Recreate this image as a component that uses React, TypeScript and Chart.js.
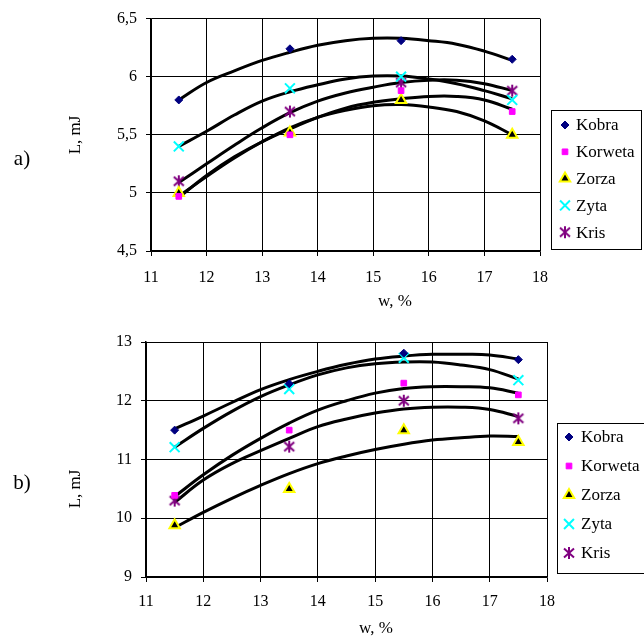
import React, { useEffect, useRef } from "react";
import { Chart, registerables } from "chart.js";
import { drawPoint } from "chart.js/helpers";

Chart.register(...registerables);

// ---------- DATA ----------
const series = ["Kobra", "Korweta", "Zorza", "Zyta", "Kris"];
const wPoints = [11.5, 13.5, 15.5, 17.5];
const wCurve = [11.5, 12, 12.5, 13, 13.5, 14, 14.5, 15, 15.5, 16, 16.5, 17, 17.5];

// chart a) measured points
const aKobra = [5.8, 6.24, 6.31, 6.15];
const aKorweta = [4.97, 5.5, 5.88, 5.7];
const aZorza = [5.0, 5.52, 5.8, 5.5];
const aZyta = [5.4, 5.9, 6.0, 5.8];
const aKris = [5.1, 5.7, 5.95, 5.88];

// chart a) trend curves
const aKobraFit = [5.8, 5.95, 6.05, 6.14, 6.21, 6.27, 6.31, 6.33, 6.33, 6.31, 6.28, 6.22, 6.14];
const aKorwetaFit = [4.96, 5.15, 5.31, 5.44, 5.55, 5.65, 5.73, 5.78, 5.81, 5.83, 5.83, 5.8, 5.72];
const aZorzaFit = [4.97, 5.14, 5.3, 5.44, 5.56, 5.65, 5.71, 5.75, 5.76, 5.74, 5.7, 5.62, 5.5];
const aZytaFit = [5.4, 5.53, 5.67, 5.79, 5.87, 5.93, 5.98, 6.005, 6.005, 5.98, 5.94, 5.88, 5.81];
const aKrisFit = [5.09, 5.25, 5.41, 5.56, 5.69, 5.79, 5.86, 5.91, 5.95, 5.97, 5.97, 5.94, 5.88];

// chart b) measured points
const bKobra = [11.5, 12.29, 12.81, 12.7];
const bKorweta = [10.39, 11.5, 12.3, 12.1];
const bZorza = [9.88, 10.5, 11.5, 11.3];
const bZyta = [11.21, 12.2, 12.73, 12.35];
const bKris = [10.3, 11.22, 12.0, 11.7];

// chart b) trend curves
const bKobraFit = [11.52, 11.74, 11.97, 12.19, 12.36, 12.5, 12.62, 12.71, 12.76, 12.79, 12.79, 12.78, 12.71];
const bKorwetaFit = [10.37, 10.74, 11.07, 11.36, 11.62, 11.84, 12.0, 12.13, 12.21, 12.24, 12.24, 12.22, 12.13];
const bZorzaFit = [9.84, 10.1, 10.34, 10.56, 10.76, 10.93, 11.06, 11.17, 11.26, 11.33, 11.37, 11.4, 11.39];
const bZytaFit = [11.21, 11.53, 11.82, 12.07, 12.27, 12.44, 12.56, 12.63, 12.66, 12.66, 12.61, 12.53, 12.37];
const bKrisFit = [10.27, 10.65, 10.93, 11.15, 11.36, 11.56, 11.69, 11.79, 11.86, 11.89, 11.89, 11.85, 11.73];

const xTicks = { min: 11, max: 18, step: 1 };
const aYTicks = { min: 4.5, max: 6.5, step: 0.5 };
const bYTicks = { min: 9, max: 13, step: 1 };

const xTitle = "w, %";
const yTitle = "L, mJ";

// ---------- STYLES ----------
const FONT = "'Liberation Serif', 'Times New Roman', serif";

function makeAsterisk(color: string): HTMLCanvasElement {
  const c = document.createElement("canvas");
  c.width = 14;
  c.height = 14;
  const g = c.getContext("2d")!;
  g.strokeStyle = color;
  g.lineWidth = 2;
  g.beginPath();
  g.moveTo(7, 1);
  g.lineTo(7, 13);
  g.moveTo(2, 2.5);
  g.lineTo(12, 11.5);
  g.moveTo(12, 2.5);
  g.lineTo(2, 11.5);
  g.stroke();
  return c;
}

const krisMarker = makeAsterisk("#800080");

const markerStyles: any[] = [
  { pointStyle: "rectRot", pointRadius: 4, backgroundColor: "#000080", borderColor: "#000080", borderWidth: 1 },
  { pointStyle: "rect", pointRadius: 4, backgroundColor: "#FF00FF", borderColor: "#FF00FF", borderWidth: 1 },
  { pointStyle: "triangle", pointRadius: 6, backgroundColor: "#000000", borderColor: "#FFFF00", borderWidth: 2 },
  { pointStyle: "crossRot", pointRadius: 7, backgroundColor: "#00FFFF", borderColor: "#00FFFF", borderWidth: 2 },
  { pointStyle: krisMarker, pointRadius: 7, backgroundColor: "#800080", borderColor: "#800080", borderWidth: 2 },
];

type LegendCfg = { x: number; y: number; w: number; h: number; y0: number; step: number; mx: number; tx: number };

function makeLegendPlugin(cfg: LegendCfg) {
  return {
    id: "boxLegend",
    afterDraw(chart: any) {
      const ctx = chart.ctx as CanvasRenderingContext2D;
      ctx.save();
      ctx.strokeStyle = "#000";
      ctx.lineWidth = 1;
      ctx.strokeRect(cfg.x + 0.5, cfg.y + 0.5, cfg.w, cfg.h);
      ctx.font = `17px ${FONT}`;
      ctx.textBaseline = "middle";
      ctx.textAlign = "left";
      series.forEach((name, i) => {
        const st = markerStyles[i];
        const yy = cfg.y0 + i * cfg.step;
        ctx.fillStyle = st.backgroundColor;
        ctx.strokeStyle = st.borderColor;
        ctx.lineWidth = st.borderWidth;
        drawPoint(ctx, { pointStyle: st.pointStyle, radius: st.pointRadius, borderWidth: st.borderWidth, rotation: 0 } as any, cfg.mx, yy);
        ctx.fillStyle = "#000";
        ctx.fillText(name, cfg.tx, yy + 1);
      });
      ctx.restore();
    },
  };
}

function buildDatasets(points: number[][], fits: number[][]) {
  const ds: any[] = [];
  points.forEach((vals, i) => {
    ds.push({
      label: series[i],
      data: wPoints.map((x, j) => ({ x, y: vals[j] })),
      showLine: false,
      order: 0,
      ...markerStyles[i],
    });
  });
  fits.forEach((vals, i) => {
    ds.push({
      label: series[i] + " trend",
      data: wCurve.map((x, j) => ({ x, y: vals[j] })),
      showLine: true,
      borderColor: "#000",
      borderWidth: 3,
      pointRadius: 0,
      tension: 0.4,
      fill: false,
      order: 1,
    });
  });
  return ds;
}

type ChartProps = {
  width: number;
  height: number;
  points: number[][];
  fits: number[][];
  yt: { min: number; max: number; step: number };
  area: { left: number; top: number; right: number; bottom: number };
  legend: LegendCfg;
  xPad: number;
};

function LChart(p: ChartProps) {
  const ref = useRef<HTMLCanvasElement | null>(null);
  useEffect(() => {
    if (!ref.current) return;
    const tickFont = { family: FONT, size: 16 };
    const chart = new Chart(ref.current, {
      type: "scatter",
      data: { datasets: buildDatasets(p.points, p.fits) },
      options: {
        responsive: false,
        animation: false,
        layout: { padding: { left: 0, top: p.area.top, right: p.width - p.area.right, bottom: 0 } },
        plugins: { legend: { display: false }, tooltip: { enabled: false } },
        scales: {
          x: {
            type: "linear",
            min: xTicks.min,
            max: xTicks.max,
            ticks: { stepSize: xTicks.step, font: tickFont, color: "#000", padding: p.xPad, maxRotation: 0 },
            grid: { color: "#000", lineWidth: 1, tickLength: 5 },
            border: { color: "#000", width: 1.5 },
            afterFit: (s: any) => {
              s.height = p.height - p.area.bottom;
            },
          },
          y: {
            type: "linear",
            min: p.yt.min,
            max: p.yt.max,
            ticks: {
              stepSize: p.yt.step,
              font: tickFont,
              color: "#000",
              padding: 9,
              callback: (v: any) => String(v).replace(".", ","),
            },
            grid: { color: "#000", lineWidth: 1, tickLength: 5 },
            border: { color: "#000", width: 1.5 },
            afterFit: (s: any) => {
              s.width = p.area.left;
            },
          },
        },
      } as any,
      plugins: [makeLegendPlugin(p.legend)],
    });
    return () => chart.destroy();
  }, []);
  return <canvas ref={ref} width={p.width} height={p.height} style={{ display: "block", width: p.width, height: p.height }} />;
}

const textStyle: React.CSSProperties = {
  position: "absolute",
  fontFamily: FONT,
  fontSize: 17,
  color: "#000",
  whiteSpace: "nowrap",
  lineHeight: "20px",
};

function Label(props: { cx: number; cy: number; text: string; rotate?: boolean; size?: number }) {
  return (
    <div
      style={{
        ...textStyle,
        fontSize: props.size ?? 17,
        left: props.cx,
        top: props.cy,
        transform: `translate(-50%, -50%)${props.rotate ? " rotate(-90deg)" : ""}`,
      }}
    >
      {props.text}
    </div>
  );
}

export default function App() {
  return (
    <div style={{ position: "absolute", left: 0, top: 0, width: 644, height: 636, background: "#fff", overflow: "hidden" }}>
      <div style={{ position: "absolute", left: 0, top: 0 }}>
        <LChart
          width={644}
          height={310}
          points={[aKobra, aKorweta, aZorza, aZyta, aKris]}
          fits={[aKobraFit, aKorwetaFit, aZorzaFit, aZytaFit, aKrisFit]}
          yt={aYTicks}
          area={{ left: 151, top: 17, right: 540, bottom: 251 }}
          legend={{ x: 551, y: 110, w: 90, h: 139, y0: 125, step: 26.8, mx: 565, tx: 576 }}
          xPad={12}
        />
      </div>
      <div style={{ position: "absolute", left: 0, top: 310 }}>
        <LChart
          width={644}
          height={326}
          points={[bKobra, bKorweta, bZorza, bZyta, bKris]}
          fits={[bKobraFit, bKorwetaFit, bZorzaFit, bZytaFit, bKrisFit]}
          yt={bYTicks}
          area={{ left: 146, top: 32, right: 547, bottom: 267 }}
          legend={{ x: 557, y: 113, w: 100, h: 150, y0: 127, step: 29, mx: 569, tx: 581 }}
          xPad={10}
        />
      </div>
      <Label cx={22} cy={158} text="a)" size={21} />
      <Label cx={22} cy={482} text="b)" size={21} />
      <Label cx={75} cy={135} text={yTitle} rotate />
      <Label cx={75} cy={489} text={yTitle} rotate />
      <Label cx={395} cy={301} text={xTitle} />
      <Label cx={376} cy={628} text={xTitle} />
    </div>
  );
}
